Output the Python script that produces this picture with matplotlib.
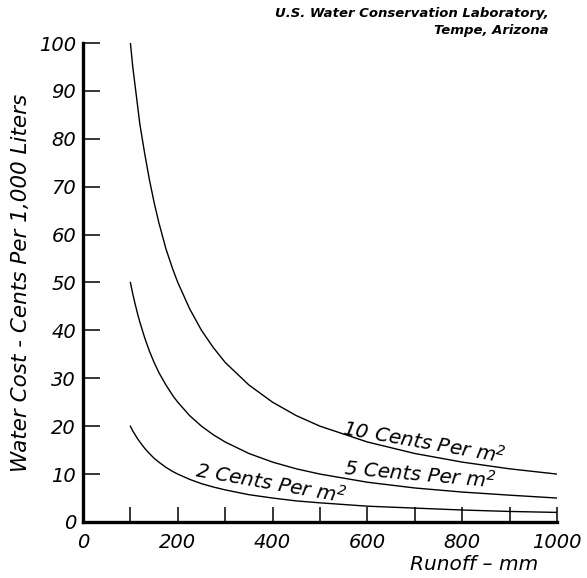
import numpy as np
import matplotlib.pyplot as plt

# runoff (mm) and water cost (cents per 1,000 liters)
runoff = [100, 105, 110, 115, 120, 130, 140, 150, 160, 175, 190, 200, 225, 250,
          275, 300, 350, 400, 450, 500, 600, 700, 800, 900, 1000]
cost_10 = [100, 95, 91, 87, 83, 77, 71.5, 66.7, 62.5, 57, 52.6, 50, 44.5, 40,
           36.4, 33.3, 28.6, 25, 22.2, 20, 16.7, 14.3, 12.5, 11.1, 10]
cost_5 = [50, 47.6, 45.5, 43.5, 41.7, 38.5, 35.7, 33.3, 31.2, 28.6, 26.3, 25, 22.2, 20,
          18.2, 16.7, 14.3, 12.5, 11.1, 10, 8.3, 7.1, 6.25, 5.6, 5]
cost_2 = [20, 19, 18.2, 17.4, 16.7, 15.4, 14.3, 13.3, 12.5, 11.4, 10.5, 10, 8.9, 8,
          7.3, 6.7, 5.7, 5, 4.4, 4, 3.3, 2.9, 2.5, 2.2, 2]

xticks = [0, 200, 400, 600, 800, 1000]
yticks = [0, 10, 20, 30, 40, 50, 60, 70, 80, 90, 100]

plt.rcParams['font.family'] = 'DejaVu Sans'
plt.rcParams['font.style'] = 'oblique'

fig = plt.figure(figsize=(5.87, 5.78), dpi=100)
ax = fig.add_axes([0.1414, 0.0969, 0.8076, 0.8287])

for c in [cost_10, cost_5, cost_2]:
    ax.plot(runoff, c, color='black', lw=1.0)

ax.set_xlim(0, 1000)
ax.set_ylim(0, 100)
ax.spines['top'].set_visible(False)
ax.spines['right'].set_visible(False)
ax.spines['left'].set_linewidth(2.4)
ax.spines['bottom'].set_linewidth(2.4)

ax.set_xticks(xticks)
ax.set_xticks(np.arange(100, 1000, 200), minor=True)
ax.set_yticks(yticks)
ax.tick_params(axis='both', which='both', direction='in', width=1.1, colors='black')
ax.tick_params(axis='y', length=12, pad=5, labelsize=14)
ax.tick_params(axis='x', which='both', length=11, pad=8, labelsize=14)
ax.set_xticklabels([str(v) for v in xticks], style='oblique')
ax.set_yticklabels([str(v) for v in yticks], style='oblique')

ax.set_ylabel('Water Cost - Cents Per 1,000 Liters', fontsize=15.5, labelpad=6)
ax.text(960, -8.8, 'Runoff \u2013 mm', ha='right', va='center', fontsize=14.5)

ax.text(719, 16.6, '10 Cents Per m$^2$', ha='center', va='center', fontsize=14.5, rotation=-10)
ax.text(711, 9.9, '5 Cents Per m$^2$', ha='center', va='center', fontsize=14.5, rotation=-5)
ax.text(395, 8.2, '2 Cents Per m$^2$', ha='center', va='center', fontsize=14.5, rotation=-10)

fig.text(0.934, 0.988, 'U.S. Water Conservation Laboratory,', ha='right', va='top',
         fontsize=9.5, weight='bold')
fig.text(0.934, 0.958, 'Tempe, Arizona', ha='right', va='top', fontsize=9.5, weight='bold')

fig.savefig('out.png', dpi=100)
